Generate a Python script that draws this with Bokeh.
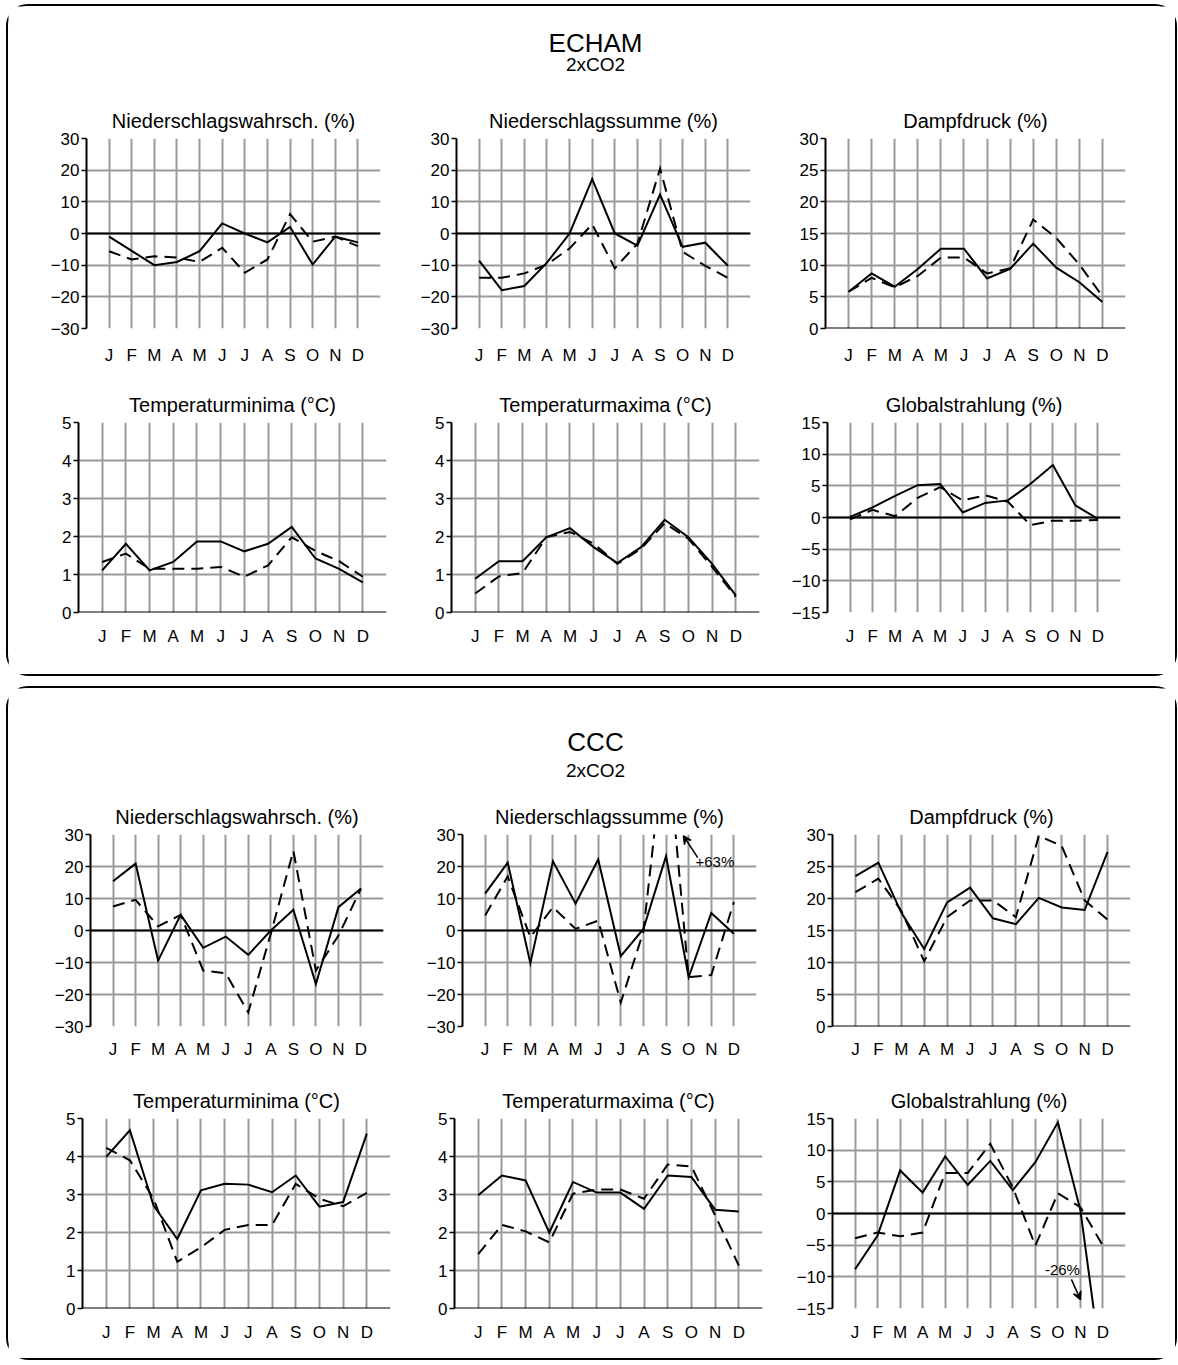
from bokeh.plotting import figure
from bokeh.layouts import column, row
from bokeh.models import Range1d, FixedTicker, Span, Label, Arrow, VeeHead
from bokeh.embed import file_html
from bokeh.resources import INLINE

# ---------------- data ----------------
months = ["J", "F", "M", "A", "M", "J", "J", "A", "S", "O", "N", "D"]
month_pos = list(range(1, 13))

titles = ["Niederschlagswahrsch. (%)", "Niederschlagssumme (%)", "Dampfdruck (%)",
          "Temperaturminima (°C)", "Temperaturmaxima (°C)", "Globalstrahlung (%)"]

ticks_pct30 = [-30, -20, -10, 0, 10, 20, 30]
ticks_dd = [0, 5, 10, 15, 20, 25, 30]
ticks_temp = [0, 1, 2, 3, 4, 5]
ticks_gs = [-15, -10, -5, 0, 5, 10, 15]

# ECHAM 2xCO2
e_nws_solid = [-1.0, -5.5, -10.0, -9.0, -5.6, 3.2, 0.0, -2.8, 2.1, -9.8, -1.0, -2.8]
e_nws_dash = [-5.6, -8.2, -7.2, -7.6, -9.0, -4.5, -12.4, -8.2, 6.1, -2.6, -1.0, -4.0]
e_nss_solid = [-8.6, -17.9, -16.6, -9.2, 0.0, 17.2, 0.0, -3.8, 12.3, -4.2, -2.9, -10.2]
e_nss_dash = [-14.0, -14.0, -12.6, -9.8, -4.7, 2.9, -11.0, -3.2, 20.5, -5.8, -10.2, -14.0]
e_dd_solid = [5.8, 8.7, 6.6, 9.4, 12.6, 12.6, 7.9, 9.4, 13.4, 9.6, 7.3, 4.2]
e_dd_dash = [5.8, 8.0, 6.5, 8.3, 11.2, 11.2, 8.7, 9.5, 17.2, 14.3, 10.1, 5.1]
e_tmin_solid = [1.11, 1.81, 1.11, 1.33, 1.87, 1.87, 1.61, 1.81, 2.25, 1.42, 1.15, 0.79]
e_tmin_dash = [1.33, 1.55, 1.15, 1.15, 1.15, 1.20, 0.94, 1.24, 1.98, 1.62, 1.35, 0.94]
e_tmax_solid = [0.89, 1.35, 1.35, 1.98, 2.22, 1.72, 1.30, 1.72, 2.44, 1.98, 1.28, 0.45]
e_tmax_dash = [0.50, 0.95, 1.04, 1.98, 2.12, 1.81, 1.28, 1.68, 2.35, 1.94, 1.20, 0.41]
e_gs_solid = [0.1, 1.6, 3.4, 5.1, 5.3, 0.8, 2.3, 2.7, 5.3, 8.3, 1.9, -0.2]
e_gs_dash = [-0.3, 1.2, 0.2, 3.1, 4.8, 2.7, 3.5, 2.5, -1.2, -0.5, -0.5, -0.4]

# CCC 2xCO2
c_nws_solid = [15.4, 20.9, -9.4, 4.9, -5.4, -1.9, -7.6, 0.0, 6.5, -16.7, 7.3, 13.1]
c_nws_dash = [7.5, 9.6, 1.3, 4.9, -12.5, -13.4, -25.6, -1.0, 24.9, -12.5, -1.6, 13.1]
c_nss_solid = [11.5, 21.2, -10.2, 21.6, 8.4, 22.2, -8.0, 0.5, 23.2, -14.6, 5.5, -1.0]
c_nss_dash = [4.7, 16.9, -2.1, 7.3, 0.5, 3.1, -22.5, -0.3, 63.0, -14.6, -13.9, 8.9]
c_dd_solid = [23.5, 25.6, 17.8, 12.1, 19.4, 21.7, 16.9, 16.0, 20.1, 18.6, 18.2, 27.3]
c_dd_dash = [21.0, 23.1, 18.1, 10.2, 17.1, 19.7, 19.7, 17.1, 29.8, 28.2, 19.7, 16.7]
c_tmin_solid = [3.99, 4.69, 2.71, 1.83, 3.11, 3.28, 3.26, 3.06, 3.50, 2.68, 2.80, 4.60]
c_tmin_dash = [4.23, 3.90, 2.89, 1.23, 1.61, 2.07, 2.20, 2.20, 3.28, 2.89, 2.69, 3.04]
c_tmax_solid = [2.98, 3.50, 3.37, 2.00, 3.33, 3.05, 3.05, 2.62, 3.50, 3.46, 2.60, 2.55]
c_tmax_dash = [1.43, 2.20, 2.03, 1.74, 3.02, 3.13, 3.13, 2.89, 3.79, 3.74, 2.45, 1.13]
c_gs_solid = [-8.8, -3.5, 6.8, 3.3, 9.0, 4.5, 8.3, 3.7, 8.1, 14.4, 0.5, -26.0]
c_gs_dash = [-3.9, -3.0, -3.6, -3.0, 6.4, 6.4, 11.0, 4.1, -5.1, 3.2, 1.0, -5.1]

FONT = "Liberation Sans"
GRID = "#9a9a9a"


def make_plot(title, yticks, solid, dash, fw, fh, left, right, top, bottom, xstand):
    p = figure(frame_width=fw, frame_height=fh,
               min_border_left=left, min_border_right=right,
               min_border_top=top, min_border_bottom=bottom,
               x_range=Range1d(0, 13), y_range=Range1d(yticks[0], yticks[-1]),
               output_backend="svg", toolbar_location=None, title=title)
    p.title.align = "center"
    p.title.text_font = FONT
    p.title.text_font_size = "20px"
    p.title.text_font_style = "normal"
    p.title.text_color = "black"
    p.title.standoff = 14
    p.outline_line_color = None
    p.background_fill_color = "white"
    p.border_fill_color = "white"

    p.xaxis.ticker = FixedTicker(ticks=month_pos)
    p.xaxis.major_label_overrides = {i: m for i, m in zip(month_pos, months)}
    p.xaxis.axis_line_color = None
    p.xaxis.major_tick_line_color = None
    p.xaxis.minor_tick_line_color = None
    p.xaxis.major_label_standoff = xstand
    p.xaxis.major_label_text_font = FONT
    p.xaxis.major_label_text_font_size = "17px"
    p.xaxis.major_label_text_color = "black"

    p.yaxis.ticker = FixedTicker(ticks=yticks)
    p.yaxis.axis_line_color = "black"
    p.yaxis.axis_line_width = 2
    p.yaxis.major_tick_line_color = "black"
    p.yaxis.major_tick_line_width = 1.5
    p.yaxis.major_tick_out = 5
    p.yaxis.major_tick_in = 0
    p.yaxis.minor_tick_line_color = None
    p.yaxis.major_label_standoff = 2
    p.yaxis.major_label_text_font = FONT
    p.yaxis.major_label_text_font_size = "17px"
    p.yaxis.major_label_text_color = "black"

    p.xgrid.ticker = FixedTicker(ticks=list(range(1, 14)))
    p.ygrid.ticker = FixedTicker(ticks=yticks)
    p.grid.grid_line_color = GRID
    p.grid.grid_line_width = 2

    p.add_layout(Span(location=0, dimension="width", line_color="black", line_width=2))
    p.line(month_pos, dash, line_color="black", line_width=2, line_dash="12 7", line_join="miter")
    p.line(month_pos, solid, line_color="black", line_width=2, line_join="miter")
    return p


def header(name, w, h, xc, y_name, y_sub):
    p = figure(width=w, height=h, x_range=Range1d(0, w), y_range=Range1d(0, h),
               min_border=0, output_backend="svg", toolbar_location=None,
               x_axis_location=None, y_axis_location=None)
    p.outline_line_color = None
    p.grid.visible = False
    p.add_layout(Label(x=xc, y=y_name, text=name, text_align="center", text_baseline="middle",
                       text_font=FONT, text_font_size="26px", text_color="black"))
    p.add_layout(Label(x=xc, y=y_sub, text="2xCO2", text_align="center", text_baseline="middle",
                       text_font=FONT, text_font_size="19px", text_color="black"))
    return p


PANEL_STYLE = {"border": "2px solid black", "border-radius": "22px", "background": "white"}
W = 1167

# ---------- ECHAM panel ----------
h1 = header("ECHAM", W, 94, 587, 58, 36)
e11 = make_plot(titles[0], ticks_pct30, e_nws_solid, e_nws_dash, 294, 190, 78, 20, 38, 52, 11)
e12 = make_plot(titles[1], ticks_pct30, e_nss_solid, e_nss_dash, 294, 190, 56, 25, 38, 52, 11)
e13 = make_plot(titles[2], ticks_dd, e_dd_solid, e_dd_dash, 300, 190, 50, 50, 38, 52, 11)
e21 = make_plot(titles[3], ticks_temp, e_tmin_solid, e_tmin_dash, 308, 190, 70, 14, 42, 62, 8)
e22 = make_plot(titles[4], ticks_temp, e_tmax_solid, e_tmax_dash, 308, 190, 51, 16, 42, 62, 8)
e23 = make_plot(titles[5], ticks_gs, e_gs_solid, e_gs_dash, 293, 190, 52, 55, 42, 62, 8)
panel1 = column(h1, row(e11, e12, e13), row(e21, e22, e23), styles=PANEL_STYLE)

# ---------- CCC panel ----------
h2 = header("CCC", W, 107, 587, 54, 25)
c11 = make_plot(titles[0], ticks_pct30, c_nws_solid, c_nws_dash, 293, 192, 82, 17, 39, 49, 7)
c12 = make_plot(titles[1], ticks_pct30, c_nss_solid, c_nss_dash, 294, 192, 62, 19, 39, 49, 7)
c13 = make_plot(titles[2], ticks_dd, c_dd_solid, c_dd_dash, 298, 192, 57, 45, 39, 49, 7)
c21 = make_plot(titles[3], ticks_temp, c_tmin_solid, c_tmin_dash, 308, 190, 74, 10, 43, 50, 8)
c22 = make_plot(titles[4], ticks_temp, c_tmax_solid, c_tmax_dash, 308, 190, 54, 13, 43, 50, 8)
c23 = make_plot(titles[5], ticks_gs, c_gs_solid, c_gs_dash, 293, 190, 57, 50, 43, 50, 8)

# annotations for off-scale values
c12.add_layout(Arrow(x_start=10.4, y_start=22.8, x_end=9.77, y_end=29.6,
                     line_color="black", line_width=1.5,
                     end=VeeHead(size=8, line_color="black", line_width=1.5)))
c12.add_layout(Label(x=10.3, y=21.6, text="+63%", text_baseline="middle",
                     text_font=FONT, text_font_size="15px", text_color="black"))
c23.add_layout(Arrow(x_start=10.6, y_start=-10.4, x_end=11.0, y_end=-13.6,
                     line_color="black", line_width=1.5,
                     end=VeeHead(size=8, line_color="black", line_width=1.5)))
c23.add_layout(Label(x=10.2, y=-8.85, text="-26%", text_align="center", text_baseline="middle",
                     text_font=FONT, text_font_size="15px", text_color="black"))

panel2 = column(h2, row(c11, c12, c13), row(c21, c22, c23), styles=PANEL_STYLE)

layout = column(panel1, panel2, spacing=10, margin=(4, 0, 0, 6))

open("out.html", "w").write(file_html(layout, INLINE))
